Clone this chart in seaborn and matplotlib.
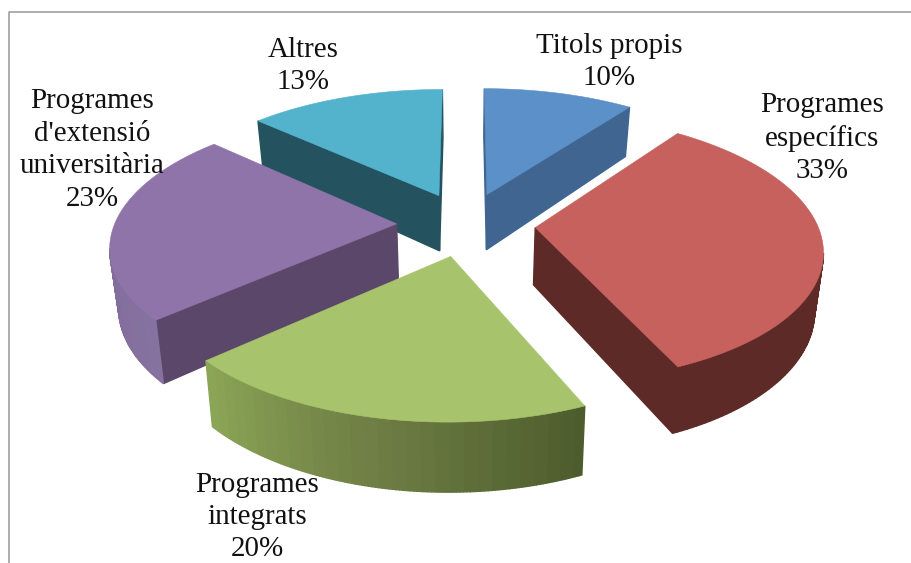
import numpy as np
import matplotlib
matplotlib.use('Agg')
import matplotlib.pyplot as plt
import seaborn as sns

categories = ['Titols propis', 'Programes\nespecífics', 'Programes\nintegrats',
              "Programes\nd'extensió\nuniversitària", 'Altres']
values = [10.1, 33.3, 19.9, 23.4, 13.2]

top_colors = ['#5B90C8', '#C6615D', '#A7C46C', '#8F74AA', '#53B3CD']
side_colors = ['#406590', '#5E2A28', '#4D5C2C', '#5B4769', '#25525F']
rim_ramps = [['#406590', '#406590'],
             ['#5E2A28', '#5E2A28'],
             ['#4D5C2C', '#6F7F45', '#8DA857'],
             ['#86729F', '#7B6399'],
             ['#25525F', '#25525F']]

label_x = [609, 822, 257, 92, 303]
label_y = [62, 138, 517, 150, 66]

# fake 3d pie, perspective fitted by eye
cx, cy = 466, 224
rad_x, rad_y = 282, 130
persp = 0.15
explode = 0.246
depth = 57
shrink = 0.975


def project(u, v):
    d = 1 + persp * v
    return cx + rad_x * u / d, cy - rad_y * v / d, depth / d


def lower(x, y, dz):
    return cx + (x - cx) * shrink, y + dz


sns.set_theme(style='white')
plt.rcParams['font.family'] = ['Liberation Serif']

fig = plt.figure(figsize=(9.11, 5.63), dpi=100)
ax = fig.add_axes([0, 0, 1, 1])
ax.set_xlim(0, 911)
ax.set_ylim(563, 0)
ax.axis('off')

ax.plot([8.5, 8.5, 911], [563, 12, 12], color='#A0A0A0', lw=1.2)

ends = np.cumsum(values) / np.sum(values) * 2 * np.pi
starts = np.concatenate([[0], ends[:-1]])
mids = (starts + ends) / 2

# back slices first
order = np.argsort(-np.cos(mids))

for i in order:
    off_u, off_v = explode * np.sin(mids[i]), explode * np.cos(mids[i])
    ang = np.linspace(starts[i], ends[i], 120)
    us = np.concatenate([[off_u], off_u + np.sin(ang), [off_u]])
    vs = np.concatenate([[off_v], off_v + np.cos(ang), [off_v]])
    xs, ys, dz = project(us, vs)

    ramp = sns.blend_palette(rim_ramps[i], n_colors=len(xs))
    for j in range(len(xs) - 1):
        # only faces turned towards the viewer
        if xs[j + 1] >= xs[j]:
            continue
        x0, y0 = lower(xs[j], ys[j], dz[j])
        x1, y1 = lower(xs[j + 1], ys[j + 1], dz[j + 1])
        radial = j == 0 or j == len(xs) - 2
        # coarse bands, the original wall is stepped too
        col = side_colors[i] if radial else ramp[j // 4 * 4]
        ax.fill([xs[j], xs[j + 1], x1, x0], [ys[j], ys[j + 1], y1, y0],
                color=col, lw=1.0, zorder=2)

    ax.fill(xs, ys, color=top_colors[i], lw=0.4, zorder=2)

for name, val, x, y in zip(categories, values, label_x, label_y):
    ax.text(x, y, f'{name}\n{val:.0f}%', ha='center', va='center', fontsize=20.9,
            color='#111111', linespacing=1.32, zorder=5)

fig.savefig('out.png', dpi=100)
